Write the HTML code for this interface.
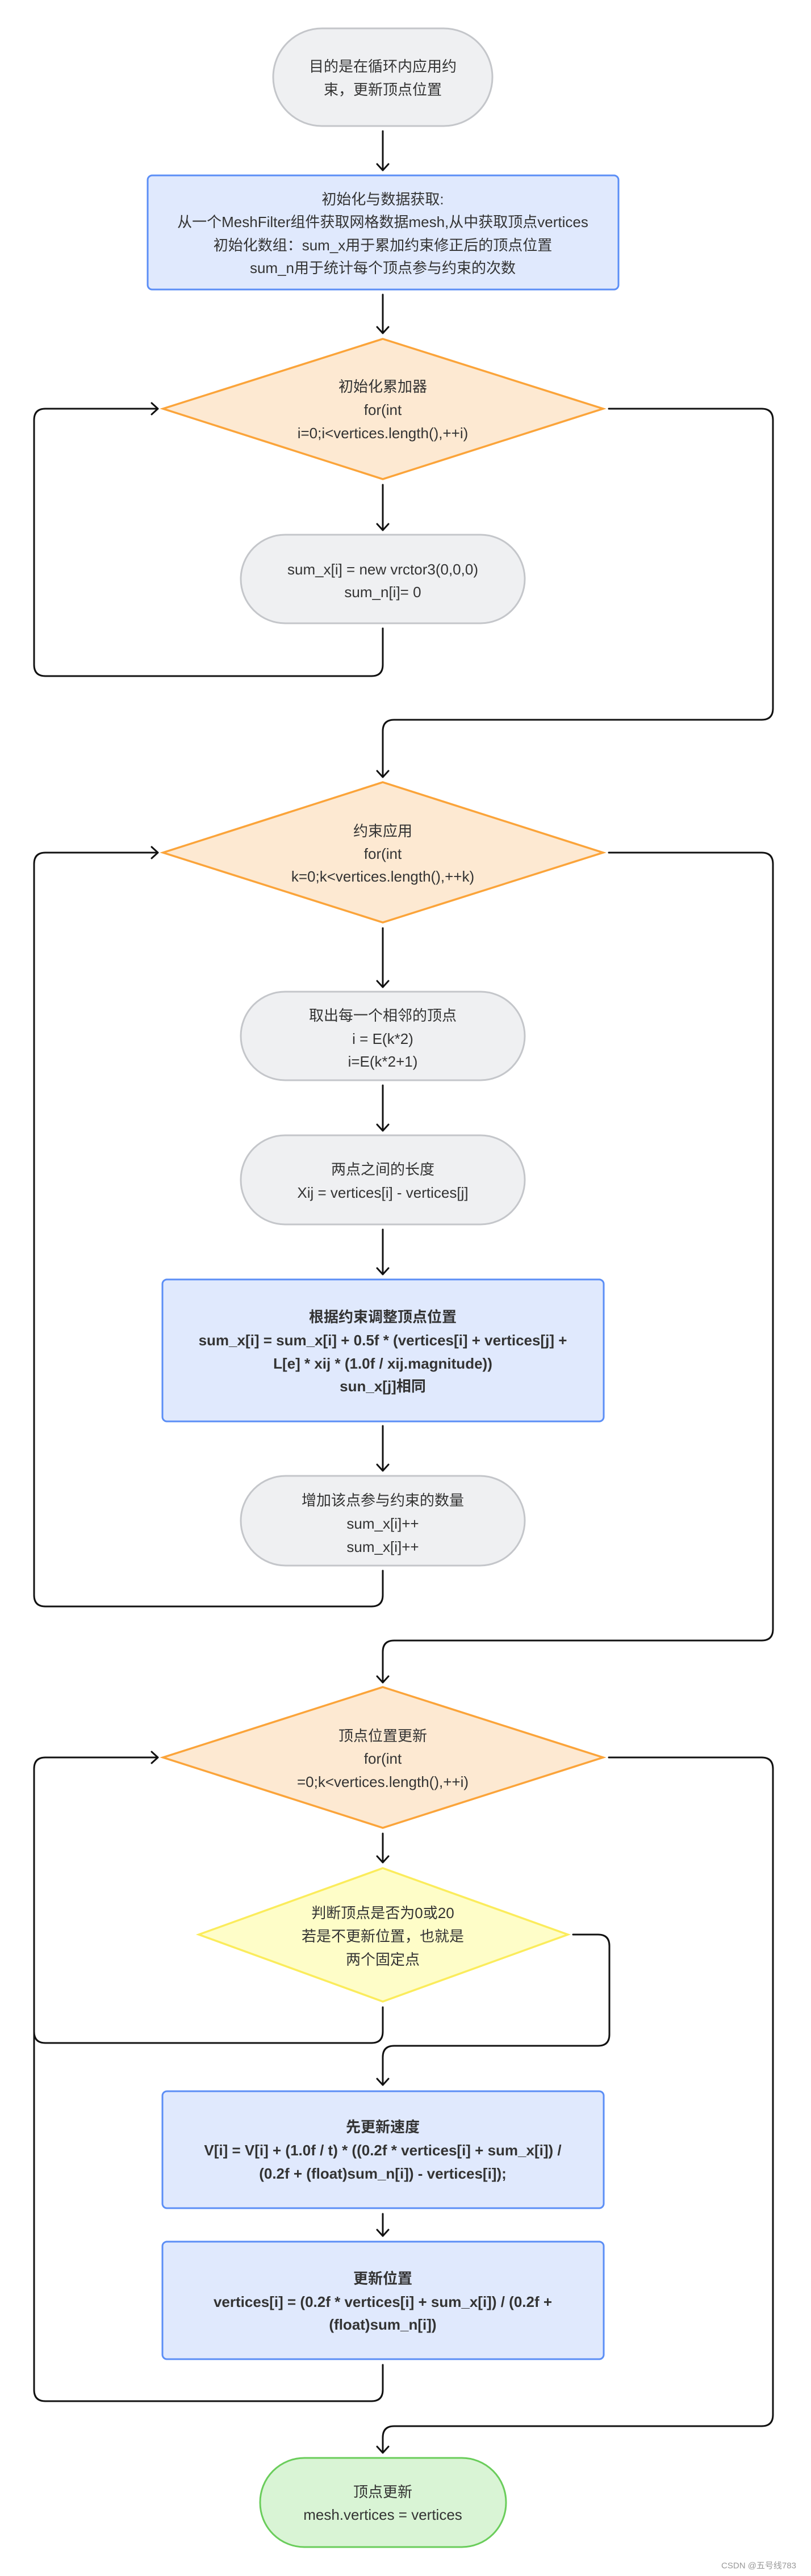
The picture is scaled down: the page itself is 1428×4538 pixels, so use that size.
<!DOCTYPE html>
<html><head><meta charset="utf-8"><style>
html,body{margin:0;padding:0;background:#fff;}
svg{display:block;}
text{font-family:"Liberation Sans","Noto Sans CJK SC",sans-serif;font-size:26px;fill:#333;text-anchor:middle;dominant-baseline:central;}
.b{font-weight:bold;}
.ln{fill:none;stroke:#111;stroke-width:3;stroke-linecap:round;stroke-linejoin:round;}
.g{fill:#eff0f2;stroke:#c4c6ca;stroke-width:3;}
.bl{fill:#e0e9fd;stroke:#5b8ef6;stroke-width:3;}
.o{fill:#fde9d2;stroke:#fba43a;stroke-width:3.5;}
.y{fill:#fefdc8;stroke:#fbec5c;stroke-width:3.5;}
.gr{fill:#d9f4d5;stroke:#6acd5b;stroke-width:3;}
</style></head><body>
<svg width="1428" height="4538" viewBox="0 0 1428 4538" xmlns="http://www.w3.org/2000/svg">
<!-- connectors -->
<path class="ln" d="M674 231V300M664 289L674 300L684 289"/>
<path class="ln" d="M674 519V587M664 576L674 587L684 576"/>
<path class="ln" d="M674 854V934M664 923L674 934L684 923"/>
<path class="ln" d="M674 1107V1171Q674 1191 654 1191H80Q60 1191 60 1171V740Q60 720 80 720H278M267 710L278 720L267 730"/>
<path class="ln" d="M1072 720H1341Q1361 720 1361 740V1248Q1361 1268 1341 1268H694Q674 1268 674 1288V1369M664 1358L674 1369L684 1358"/>
<path class="ln" d="M674 1635V1739M664 1728L674 1739L684 1728"/>
<path class="ln" d="M674 1912V1992M664 1981L674 1992L684 1981"/>
<path class="ln" d="M674 2166V2245M664 2234L674 2245L684 2234"/>
<path class="ln" d="M674 2512V2591M664 2580L674 2591L684 2580"/>
<path class="ln" d="M674 2767V2810Q674 2830 654 2830H80Q60 2830 60 2810V1522Q60 1502 80 1502H278M267 1492L278 1502L267 1512"/>
<path class="ln" d="M1072 1502H1341Q1361 1502 1361 1522V2870Q1361 2890 1341 2890H694Q674 2890 674 2910V2964M664 2953L674 2964L684 2953"/>
<path class="ln" d="M674 3230V3281M664 3270L674 3281L684 3270"/>
<path class="ln" d="M674 3536V3579Q674 3599 654 3599H80Q60 3599 60 3579"/>
<path class="ln" d="M1009 3408H1053Q1073 3408 1073 3428V3584Q1073 3604 1053 3604H694Q674 3604 674 3624V3673M664 3662L674 3673L684 3662"/>
<path class="ln" d="M674 3900V3939M664 3928L674 3939L684 3928"/>
<path class="ln" d="M674 4166V4210Q674 4230 654 4230H80Q60 4230 60 4210V3116Q60 3096 80 3096H278M267 3086L278 3096L267 3106"/>
<path class="ln" d="M1072 3096H1341Q1361 3096 1361 3116V4254Q1361 4274 1341 4274H694Q674 4274 674 4294V4321M664 4310L674 4321L684 4310"/>

<!-- nodes -->
<rect class="g" x="481" y="50" width="386" height="172" rx="86"/>
<text x="674" y="117">目的是在循环内应用约</text>
<text x="674" y="158">束，更新顶点位置</text>

<rect class="bl" x="260" y="309" width="829" height="201" rx="8"/>
<text x="674" y="351">初始化与数据获取:</text>
<text x="674" y="391">从一个MeshFilter组件获取网格数据mesh,从中获取顶点vertices</text>
<text x="674" y="432">初始化数组：sum_x用于累加约束修正后的顶点位置</text>
<text x="674" y="472">sum_n用于统计每个顶点参与约束的次数</text>

<polygon class="o" points="674,597 1062,720 674,844 287,720"/>
<text x="674" y="681">初始化累加器</text>
<text x="674" y="722">for(int</text>
<text x="674" y="763">i=0;i&lt;vertices.length(),++i)</text>

<rect class="g" x="424" y="942" width="500" height="156" rx="78"/>
<text x="674" y="1003">sum_x[i] = new vrctor3(0,0,0)</text>
<text x="674" y="1043">sum_n[i]= 0</text>

<polygon class="o" points="674,1378 1062,1502 674,1625 287,1502"/>
<text x="674" y="1464">约束应用</text>
<text x="674" y="1504">for(int</text>
<text x="674" y="1544">k=0;k&lt;vertices.length(),++k)</text>

<rect class="g" x="424" y="1747" width="500" height="156" rx="78"/>
<text x="674" y="1789">取出每一个相邻的顶点</text>
<text x="674" y="1830">i = E(k*2)</text>
<text x="674" y="1870">i=E(k*2+1)</text>

<rect class="g" x="424" y="2000" width="500" height="157" rx="78"/>
<text x="674" y="2060">两点之间的长度</text>
<text x="674" y="2101">Xij = vertices[i] - vertices[j]</text>

<rect class="bl" x="286" y="2254" width="777" height="250" rx="8"/>
<text class="b" x="674" y="2320">根据约束调整顶点位置</text>
<text class="b" x="674" y="2361">sum_x[i] = sum_x[i] + 0.5f * (vertices[i] + vertices[j] +</text>
<text class="b" x="674" y="2402">L[e] * xij * (1.0f / xij.magnitude))</text>
<text class="b" x="674" y="2442">sun_x[j]相同</text>

<rect class="g" x="424" y="2600" width="500" height="158" rx="79"/>
<text x="674" y="2643">增加该点参与约束的数量</text>
<text x="674" y="2684">sum_x[i]++</text>
<text x="674" y="2725">sum_x[i]++</text>

<polygon class="o" points="674,2972 1062,3096 674,3220 287,3096"/>
<text x="674" y="3058">顶点位置更新</text>
<text x="674" y="3098">for(int</text>
<text x="674" y="3139">=0;k&lt;vertices.length(),++i)</text>

<polygon class="y" points="674,3291 1000,3408 674,3526 350,3408"/>
<text x="674" y="3370">判断顶点是否为0或20</text>
<text x="674" y="3411">若是不更新位置，也就是</text>
<text x="674" y="3452">两个固定点</text>

<rect class="bl" x="286" y="3684" width="777" height="206" rx="8"/>
<text class="b" x="674" y="3747">先更新速度</text>
<text class="b" x="674" y="3788">V[i] = V[i] + (1.0f / t) * ((0.2f * vertices[i] + sum_x[i]) /</text>
<text class="b" x="674" y="3829">(0.2f + (float)sum_n[i]) - vertices[i]);</text>

<rect class="bl" x="286" y="3949" width="777" height="207" rx="8"/>
<text class="b" x="674" y="4014">更新位置</text>
<text class="b" x="674" y="4055">vertices[i] = (0.2f * vertices[i] + sum_x[i]) / (0.2f +</text>
<text class="b" x="674" y="4095">(float)sum_n[i])</text>

<rect class="gr" x="458" y="4330" width="433" height="157" rx="78"/>
<text x="674" y="4390">顶点更新</text>
<text x="674" y="4430">mesh.vertices = vertices</text>

<text x="1336" y="4520" style="font-size:15px;fill:#999;">CSDN @五号线783</text>
</svg>
</body></html>
